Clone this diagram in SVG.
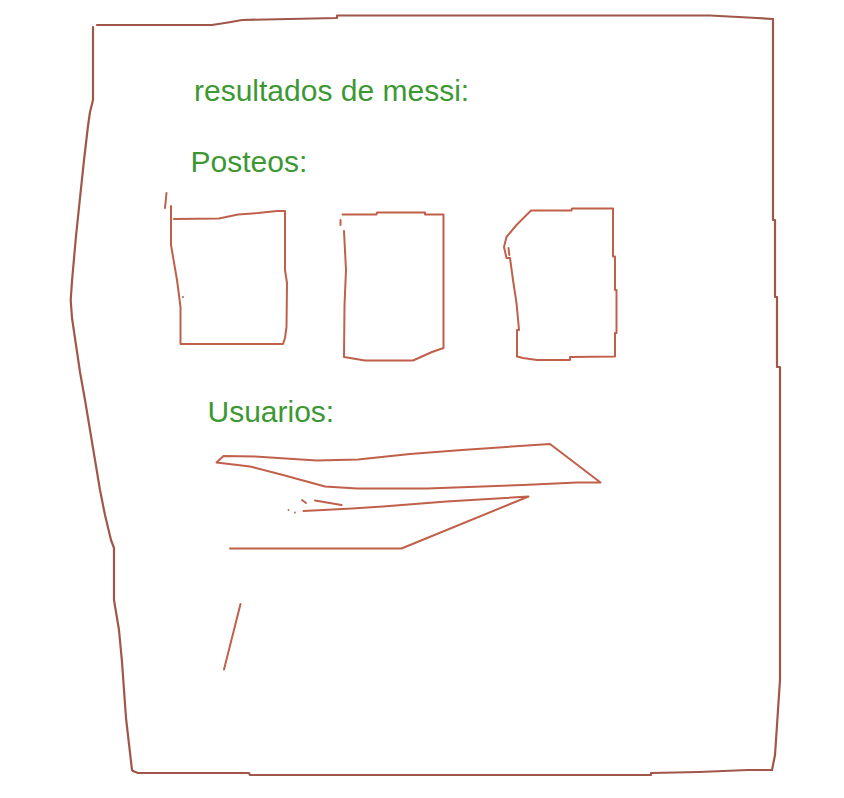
<svg xmlns="http://www.w3.org/2000/svg" width="844" height="798" viewBox="0 0 844 798">
<style>
.frame{fill:none;stroke:#a0574a;stroke-width:2.2;stroke-linejoin:round;stroke-linecap:round}
.ink{fill:none;stroke:#c0604b;stroke-width:2;stroke-linejoin:round;stroke-linecap:round}
.lbl{font-family:"Liberation Sans",Arial,sans-serif;font-size:30px;fill:#3d9833}
</style>
<rect width="844" height="798" fill="#ffffff"/>
<g id="frame">
<path class="frame" d="M97,25 L212,25 L228,22.5 L242,20 L337,18 L337,15.5 L710,15.5 L757,18 L773,19"/>
<path class="frame" d="M773,19 L773,220 L775,220 L775,297 L777,297 L777,367 L780,367 L780,680 L778,710 L775,755 L772,770"/>
<path class="frame" d="M772,770 L748,770 L699,772 L651,773 L651,775 L250,775 L249,773 L138,773 L133,771"/>
<path class="frame" d="M93,27 L93,100 L90,112 L88,126 L84,160 L80,198 L76,236 L72,281 L70.7,300 L72,318 L76,345 L80,372 L85,400 L90,430 L95,460 L100,490 L105,515 L111,540 L114,548 L114,600 L119,630 L122,662 L126,718 L132,770 L133,771"/>
</g>
<g id="titulo">
<text class="lbl" x="194" y="100.5">resultados de messi:</text>
</g>
<g id="posteos">
<text class="lbl" x="190.5" y="171.5">Posteos:</text>
</g>
<g id="post1">
<path class="ink" d="M166.5,193 L165,208"/>
<path class="ink" d="M171,206 L171,245 L177,280 L180.5,307 L180.5,344 L283,344 L285,338 L286.5,327 L287,283 L285,270 L285,211 L277,211 L258,213 L238,214.5 L219,218.5 L174,219"/>
<circle cx="183" cy="297" r="1" fill="#c0604b"/>
</g>
<g id="post2">
<path class="ink" d="M340.5,220 L340.5,225"/>
<path class="ink" d="M342.5,214.5 L376.5,214.5 L377,212.5 L425,212.5 L425,214.5 L443.5,214.5 L443.5,348 L432,352 L413,360.5 L365,360.5 L353,358.5 L344,357 L344.5,305 L346,270 L344,231"/>
</g>
<g id="post3">
<path class="ink" d="M531,210.5 L571.5,210.5 L572,208.5 L613,208.5 L613,256.5 L615,256.5 L615,290 L616.5,290 L616.5,333 L615,333 L615,356.5 L570,357 L570,360 L537,360 L523,358 L517,356.5 L517,330 L519,330 L516.5,303 L513,280 L510,258 L506.5,258 L504,247 L506.5,237 L516.5,225 Z"/>
<path class="ink" d="M508.5,248 L509.3,255"/>
</g>
<g id="usuarios">
<text class="lbl" x="207.5" y="421.5">Usuarios:</text>
</g>
<g id="usuario1">
<path class="ink" d="M216.5,462.5 L223.5,456 L255,456.5 L316.5,460.5 L358,459.5 L410,454 L462,450 L550,444 L600.5,482.5 L577,482.5 L523,485 L427,488.5 L357,488.5 L325,486.5 L283,475 L250,466.5 Z"/>
</g>
<g id="usuario2">
<path class="ink" d="M230,548.5 L401.5,548.5 L528.5,496.5 L480,499.5 L446.5,501.5 L383,506.5 L352,508.5 L303.5,511"/>
<path class="ink" d="M315,500.5 L341.5,505"/>
<path class="ink" d="M302,500 L306,503"/>
<circle cx="288.5" cy="510" r="0.9" fill="#c0604b"/>
<circle cx="295" cy="512.5" r="0.9" fill="#c0604b"/>
</g>
<g id="usuario3">
<path class="ink" d="M240.5,604 L224,669.5"/>
</g>
</svg>
